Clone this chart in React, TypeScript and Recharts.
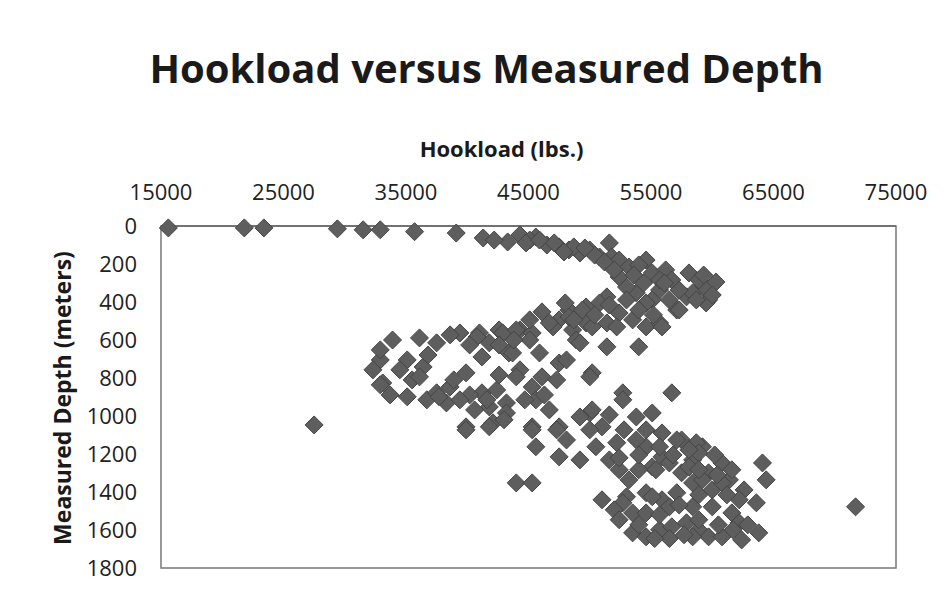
import React from 'react';
import { ScatterChart, Scatter, XAxis, YAxis, ReferenceArea } from 'recharts';

const hookload = [
  15600, 21800, 23400, 29400, 31500, 32900, 35700, 39100, 41300, 43300, 44300, 45600, 46500, 47500, 48300, 49200,
  50000, 50800, 51600, 51800, 52400, 53200, 54600, 55100, 56200, 56700, 58100, 59200, 60300, 59700, 57900, 57100,
  55700, 55100, 54600, 53800, 53000, 52400, 53000, 51400, 50800, 49700, 48300, 47500, 46100, 47000, 52400, 53500,
  54600, 55700, 51400, 49700, 48600, 39400, 41000, 42600, 44300, 45300, 48300, 49400, 48900, 51400, 50200, 52200,
  54000, 55900, 57300, 59500, 45100, 43400, 45900, 47500, 50200, 44300, 46100, 52700, 56700,
  33900, 36100, 37500, 32900, 32300, 33100, 35100, 36400, 35500, 35100, 36700, 37500, 38600, 38300, 39900, 40800,
  41800, 41200, 42900, 44000, 43700, 44000, 42400, 41200, 41800, 43200, 45300, 45600, 46700, 47300, 48100, 50000,
  49200, 46700, 39900, 42100, 45300, 47500, 50000, 27500, 36100, 32900, 32900,
  37700, 39900, 41800, 41600, 43200, 45300, 45600, 47300, 47500, 48100, 49200, 49200, 50200, 51000, 52200, 50500,
  52700, 53800, 55100, 54600, 55900, 54600, 55900, 57500, 58400, 59200, 57500, 44000, 45300,
  53800, 55700, 57100, 58700, 55100, 56500, 58100, 58900, 59700, 60800, 61400, 60000, 58400, 64100, 64400, 51000,
  53000, 54600, 55900, 63600,
  52700, 55100, 57100, 59200, 60800, 71700, 53500, 54600, 56500, 58400, 60000, 61600, 62200, 53500, 54600, 55700,
  56700, 57900, 58900, 59700, 60800, 62400, 63800, 58400,
  45100, 47100, 48700, 50400, 54000, 55700, 58900, 58400, 51600, 52400, 53200, 54000,
  42200, 44800, 45900, 47900, 49600, 51200, 52000, 53600, 54400, 56100, 57300, 58700, 60000, 59300,
  48000, 48700, 50400, 51600, 54000, 55200, 56500, 45100, 43800, 42600, 40200, 38600, 36800, 34500, 33700, 38900,
  40200, 42600, 44700, 46300, 43000, 40600, 39400,
  50000, 51600, 52800, 54000, 52400, 55400, 56800, 58100, 60200, 58900, 60400, 61600, 62600, 62200, 61200, 58900,
  57300, 55700, 52000, 54000, 52400, 58900, 60500, 61700, 62900, 57700, 56500, 55300,
];

const depth = [
  10, 10, 10, 15, 20, 20, 30, 37, 63, 84, 47, 58, 100, 110, 126, 142,
  126, 163, 89, 163, 179, 216, 179, 247, 231, 284, 247, 321, 295, 389, 373, 442,
  337, 389, 405, 352, 321, 268, 389, 373, 405, 426, 442, 494, 452, 531, 458, 494,
  531, 510, 510, 510, 547, 563, 563, 547, 547, 563, 479, 442, 600, 636, 531, 531,
  636, 531, 442, 405, 600, 668, 668, 721, 773, 757, 794, 878, 878,
  600, 589, 615, 705, 757, 826, 705, 742, 810, 899, 915, 878, 847, 931, 773, 584,
  615, 689, 563, 547, 668, 794, 863, 878, 952, 931, 847, 915, 968, 810, 705, 794,
  615, 510, 1057, 1036, 1057, 1057, 984, 1047, 794, 836, 652,
  899, 1073, 1057, 915, 984, 1073, 1162, 1073, 1215, 1126, 1231, 1005, 968, 1057, 1141, 1162,
  915, 1005, 984, 1073, 1089, 1162, 1215, 1126, 1231, 1162, 1299, 1352, 1352,
  1126, 1162, 1126, 1141, 1268, 1247, 1268, 1194, 1299, 1247, 1336, 1389, 1352, 1247, 1336, 1441,
  1425, 1404, 1441, 1457,
  1457, 1425, 1404, 1336, 1352, 1478, 1510, 1510, 1478, 1478, 1478, 1510, 1562, 1615, 1636, 1599,
  1583, 1562, 1599, 1636, 1636, 1652, 1615, 1636,
  74, 89, 110, 153, 205, 284, 284, 352, 1231, 1283, 1336, 1283,
  74, 89, 74, 137, 116, 189, 231, 258, 300, 300, 337, 389, 363, 258,
  405, 494, 468, 416, 442, 468, 389, 494, 600, 626, 626, 573, 679, 757, 889, 810,
  889, 784, 915, 889, 1020, 968, 915,
  1073, 994, 1073, 1205, 1220, 1283, 1205, 1178, 1205, 1283, 1310, 1283, 1389, 1441, 1415, 1415,
  1468, 1520, 1494, 1573, 1546, 1546, 1573, 1599, 1573, 1625, 1645, 1645,
];

const xTicks = [15000, 25000, 35000, 45000, 55000, 65000, 75000];
const yTicks = [0, 200, 400, 600, 800, 1000, 1200, 1400, 1600, 1800];

const points = hookload.map((h, i) => ({ hookload: h, depth: depth[i] }));

const font = '"Open Sans", sans-serif';
const tickStyle = { fontSize: 22, fill: '#222', fontFamily: font };

// square diamond like the Excel marker
const Diamond = (props: any) => {
  const { cx, cy } = props;
  const r = 9;
  return (
    <polygon
      points={`${cx},${cy - r} ${cx + r},${cy} ${cx},${cy + r} ${cx - r},${cy}`}
      fill="#5e5e5e"
      stroke="#454545"
      strokeWidth={1}
    />
  );
};

export default function App() {
  return (
    <div style={{ position: 'absolute', left: 0, top: 0, width: 952, height: 592, background: '#fff' }}>
      <div
        style={{
          position: 'absolute', left: 0, top: 40, width: 973, textAlign: 'center',
          fontFamily: font, fontWeight: 700, fontSize: 40, color: '#1a1a1a',
        }}
      >
        Hookload versus Measured Depth
      </div>
      <div
        style={{
          position: 'absolute', left: 0, top: 133, width: 1003, textAlign: 'center',
          fontFamily: font, fontWeight: 700, fontSize: 22, color: '#1a1a1a',
        }}
      >
        Hookload (lbs.)
      </div>
      <div
        style={{
          position: 'absolute', left: 62, top: 398, width: 340, marginLeft: -170, marginTop: -16,
          textAlign: 'center', transform: 'rotate(-90deg)',
          fontFamily: font, fontWeight: 700, fontSize: 23, color: '#1a1a1a',
        }}
      >
        Measured Depth (meters)
      </div>
      <ScatterChart width={952} height={592} margin={{ top: 186, right: 56, bottom: 24, left: 101 }}>
        <XAxis
          type="number"
          dataKey="hookload"
          orientation="top"
          domain={[15000, 75000]}
          ticks={xTicks}
          height={40}
          tickLine={false}
          axisLine={{ stroke: '#666', strokeWidth: 1.5 }}
          tickSize={0}
          tickMargin={26}
          tick={tickStyle}
          interval={0}
        />
        <YAxis
          type="number"
          dataKey="depth"
          reversed
          domain={[0, 1800]}
          ticks={yTicks}
          width={60}
          tickLine={false}
          axisLine={{ stroke: '#999', strokeWidth: 1 }}
          tickSize={0}
          tickMargin={24}
          tick={tickStyle}
          interval={0}
        />
        <ReferenceArea x1={15000} x2={75000} y1={0} y2={1800} fill="none" stroke="#777" strokeWidth={1.5} />
        <Scatter data={points} shape={Diamond} isAnimationActive={false} />
      </ScatterChart>
    </div>
  );
}
